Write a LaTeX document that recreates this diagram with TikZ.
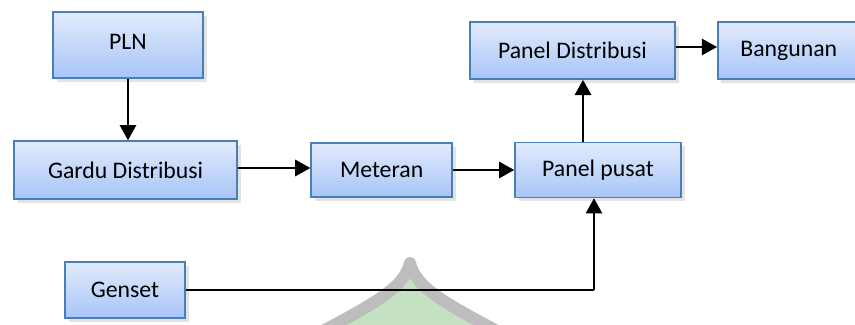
\documentclass[tikz,border=0pt]{standalone}
\usepackage{fontspec}
\setmainfont{Carlito}
\usetikzlibrary{arrows.meta, shadows, calc}

\definecolor{boxtop}{HTML}{E2EBFC}
\definecolor{boxbottom}{HTML}{A7C5F7}
\definecolor{boxline}{HTML}{4A7EBB}
\definecolor{markgray}{HTML}{BDBDBD}
\definecolor{markgreen}{HTML}{C4E2C2}

\begin{document}
\begin{tikzpicture}[
    unit/.style={draw=boxline, line width=1.1pt, top color=boxtop, bottom color=boxbottom,
        rectangle, inner sep=0pt, font=\fontsize{16.9}{20}\selectfont,
        drop shadow={shadow xshift=0.09cm, shadow yshift=-0.1cm, fill=black!22}},
    flow/.style={line width=1.4pt, -{Triangle[length=3.8mm, width=4.1mm]}},
    link/.style={line width=1.3pt}
]
\useasboundingbox (0,0) rectangle (21.375,8.125);

% Watermark
\draw[line width=0.3cm, markgray, fill=markgreen, line join=round]
    (7.6,-0.4) .. controls (9.3,0.5) and (10.1,0.9) .. (10.25,1.55)
    .. controls (10.4,0.9) and (11.2,0.5) .. (12.9,-0.4) -- cycle;

% Units
\node[unit, minimum width=3.75cm, minimum height=1.65cm] (PLN) at (3.2, 7.0) {\raisebox{0.15cm}{PLN}};
\node[unit, minimum width=5.575cm, minimum height=1.45cm] (Gardu) at (3.14, 3.875) {Gardu Distribusi};
\node[unit, minimum width=3.525cm, minimum height=1.35cm] (Meteran) at (9.54, 3.875) {Meteran};
\node[unit, minimum width=4.15cm, minimum height=1.375cm] (Pusat) at (14.95, 3.875) {Panel pusat};
\node[unit, minimum width=5.125cm, minimum height=1.425cm] (PDist) at (14.31, 6.86) {Panel Distribusi};
\node[unit, minimum width=3.55cm, minimum height=1.425cm] (Bangunan) at (19.72, 6.86) {Bangunan};
\node[unit, minimum width=3.0cm, minimum height=1.4cm] (Genset) at (3.125, 0.875) {Genset};

% Links
\draw[flow] (PLN.south) -- (PLN.south |- Gardu.north);
\draw[flow] (Gardu.east |- 0,3.925) -- (Meteran.west |- 0,3.925);
\draw[flow] (Meteran) -- (Pusat);
\draw[flow] ([xshift=-0.375cm]Pusat.north) -- ([xshift=-0.375cm]Pusat.north |- PDist.south);
\draw[flow] (PDist.east |- 0,6.95) -- (Bangunan.west |- 0,6.95);

% Genset feed
\coordinate (bend) at ([xshift=-0.1cm]Pusat.south |- Genset.east);
\draw[link] (Genset.east) -- (bend);
\draw[flow, line width=1.3pt] (bend) -- ([xshift=-0.1cm]Pusat.south);

\end{tikzpicture}
\end{document}
